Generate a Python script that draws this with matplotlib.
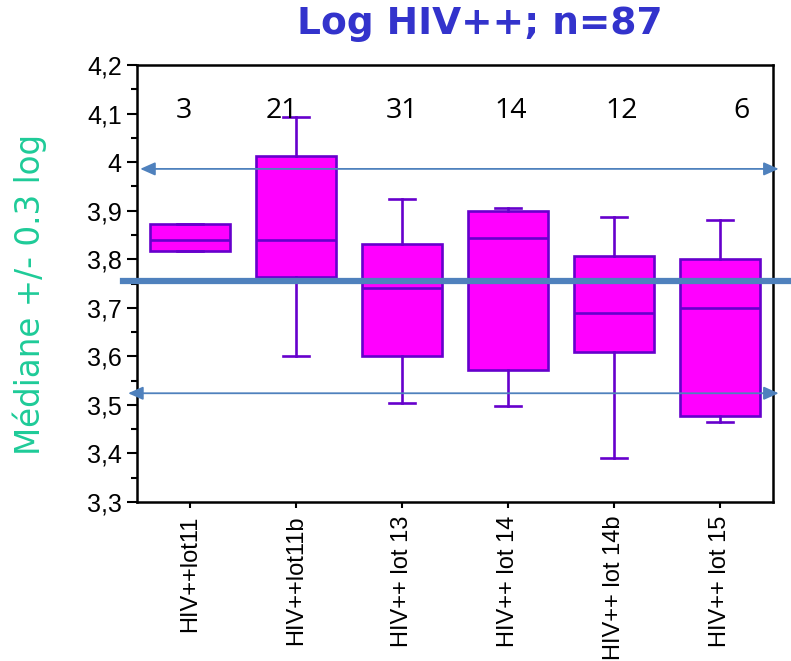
import matplotlib
matplotlib.use('Agg')
import matplotlib.pyplot as plt
from matplotlib.ticker import MultipleLocator, FuncFormatter
import matplotlib.transforms as mtransforms

plt.rcParams['font.family'] = ['Liberation Sans', 'DejaVu Sans']

# data
lots = ["HIV++lot11", "HIV++lot11b", "HIV++ lot 13", "HIV++ lot 14", "HIV++ lot 14b", "HIV++ lot 15"]
counts = [3, 21, 31, 14, 12, 6]
whisk_lo = [3.816, 3.601, 3.504, 3.497, 3.391, 3.465]
q1 = [3.816, 3.764, 3.601, 3.572, 3.609, 3.478]
medians = [3.839, 3.839, 3.740, 3.843, 3.689, 3.699]
q3 = [3.873, 4.013, 3.831, 3.900, 3.806, 3.801]
whisk_hi = [3.873, 4.092, 3.924, 3.906, 3.887, 3.881]
overall_median = 3.756
band_lo = 3.524
band_hi = 3.986

# x positions of the count labels (layout only)
count_x = [0.94, 1.87, 3.0, 4.03, 5.07, 6.2]

magenta = "#FF00FF"
purple = "#6600CC"
arrow_blue = "#4F81BD"
title_blue = "#3333CC"
label_green = "#1ECB98"

fig = plt.figure(figsize=(7.91, 6.61), dpi=100)
ax = fig.add_axes([0.1732, 0.2405, 0.804, 0.6612])

stats = []
for i in range(len(lots)):
    stats.append({
        "label": lots[i],
        "whislo": whisk_lo[i],
        "q1": q1[i],
        "med": medians[i],
        "q3": q3[i],
        "whishi": whisk_hi[i],
        "fliers": [],
    })

pos = list(range(1, len(lots) + 1))
ax.bxp(stats, positions=pos, widths=0.755, patch_artist=True, showfliers=False,
       capwidths=0.24,
       boxprops=dict(facecolor=magenta, edgecolor=purple, linewidth=1.9),
       medianprops=dict(color=purple, linewidth=1.9),
       whiskerprops=dict(color=purple, linewidth=1.9),
       capprops=dict(color=purple, linewidth=1.9))

ax.set_xlim(0.5, len(lots) + 0.5)
ax.set_ylim(3.3, 4.2)

# reference lines: median (thick) and +/- arrows
trans = mtransforms.blended_transform_factory(ax.transAxes, ax.transData)
ax.plot([-0.022, 1.03], [overall_median, overall_median], color=arrow_blue,
        linewidth=4.5, transform=trans, clip_on=False, zorder=5)
arrow_style = dict(arrowstyle="<|-|>,head_length=0.9,head_width=0.4", color=arrow_blue,
                   linewidth=1.3, shrinkA=0, shrinkB=0)
ax.annotate("", xy=(1.009, band_hi), xytext=(0.005, band_hi), xycoords=trans,
            textcoords=trans, arrowprops=arrow_style, annotation_clip=False, zorder=5)
ax.annotate("", xy=(1.009, band_lo), xytext=(-0.014, band_lo), xycoords=trans,
            textcoords=trans, arrowprops=arrow_style, annotation_clip=False, zorder=5)

for x, n in zip(count_x, counts):
    ax.text(x, 4.09, str(n), ha="center", va="baseline", fontsize=20.5,
            family="Open Sans", color="black")

# axes styling
ax.yaxis.set_major_locator(MultipleLocator(0.1))
ax.yaxis.set_minor_locator(MultipleLocator(0.05))
ax.yaxis.set_major_formatter(FuncFormatter(
    lambda v, p: f"{v:.1f}".replace(".0", "").replace(".", ",")))
ax.tick_params(axis="y", which="major", length=7, width=1.5, labelsize=18, pad=4)
ax.tick_params(axis="y", which="minor", length=4, width=1.5)
ax.tick_params(axis="x", which="major", length=4, width=1.5, labelsize=17, pad=6)
ax.set_xticks(pos)
ax.set_xticklabels(lots, rotation=90)
for s in ax.spines.values():
    s.set_linewidth(1.8)

fig.text(0.606, 0.964, "Log HIV++; n=87", ha="center", va="center",
         fontsize=27, fontweight="bold", color=title_blue, family="DejaVu Sans")
fig.text(0.038, 0.554, "Médiane +/- 0.3 log", ha="center", va="center",
         rotation=90, fontsize=23.5, color=label_green, family="DejaVu Sans")

fig.savefig("out.png", dpi=100, facecolor="#FFFFFF")
plt.close(fig)
